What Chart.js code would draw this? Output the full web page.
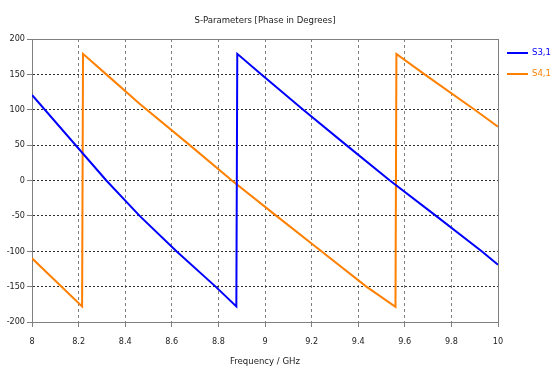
<!DOCTYPE html>
<html>
<head>
<meta charset="utf-8">
<script src="https://cdn.jsdelivr.net/npm/chart.js@4/dist/chart.umd.min.js"></script>
<style>
  html, body { margin: 0; padding: 0; background: #fff; }
</style>
</head>
<body>
<canvas id="chart" width="552" height="370"></canvas>
<script>
// S-parameter phase data, degrees vs GHz
const s31Freq  = [8.0, 8.319, 8.462, 8.62, 8.788, 8.877, 8.881, 8.977, 9.164, 9.349, 9.536, 9.734, 9.93, 10.0];
const s31Phase = [121, 0, -50, -100, -150, -178, 179, 152, 100, 50, 0, -50, -100, -119];

const s41Freq  = [8.0, 8.215, 8.219, 8.319, 8.463, 8.677, 8.858, 9.049, 9.242, 9.435, 9.56, 9.564, 9.685, 9.9, 10.0];
const s41Phase = [-110, -178, 179, 150, 108, 50, 0, -50, -100, -150, -178.5, 179, 150, 100, 76];

const seriesLabels = ['S3,1', 'S4,1'];
const seriesColors = ['#0000ff', '#ff8000'];

const xTicks = [8, 8.2, 8.4, 8.6, 8.8, 9, 9.2, 9.4, 9.6, 9.8, 10];
const yTicks = [-200, -150, -100, -50, 0, 50, 100, 150, 200];

const fontFamily = "'DejaVu Sans Condensed', 'Liberation Sans', sans-serif";

function toPoints(xs, ys) {
  return xs.map((x, i) => ({ x: x, y: ys[i] }));
}

// frame around the plot area (top and right sides too)
const framePlugin = {
  id: 'frame',
  beforeDatasetsDraw(chart) {
    const { ctx, chartArea } = chart;
    ctx.save();
    ctx.strokeStyle = '#7f7f7f';
    ctx.lineWidth = 1;
    ctx.strokeRect(chartArea.left + 0.5, chartArea.top + 0.5,
                   chartArea.right - chartArea.left, chartArea.bottom - chartArea.top);
    ctx.restore();
  }
};

// legend at the right, coloured text like the original
const sideLegend = {
  id: 'sideLegend',
  afterDraw(chart) {
    const { ctx, chartArea } = chart;
    ctx.save();
    ctx.font = '9.5px ' + fontFamily;
    ctx.textBaseline = 'middle';
    chart.data.datasets.forEach((ds, i) => {
      const y = chartArea.top + 14 + i * 21;
      const x0 = chartArea.right + 9;
      ctx.strokeStyle = ds.borderColor;
      ctx.lineWidth = 2;
      ctx.beginPath();
      ctx.moveTo(x0, y);
      ctx.lineTo(x0 + 21, y);
      ctx.stroke();
      ctx.fillStyle = ds.borderColor;
      ctx.fillText(ds.label, x0 + 25, y);
    });
    ctx.restore();
  }
};

const chart = new Chart(document.getElementById('chart'), {
  type: 'scatter',
  data: {
    datasets: [
      {
        label: seriesLabels[0],
        data: toPoints(s31Freq, s31Phase),
        borderColor: seriesColors[0],
        backgroundColor: seriesColors[0],
        showLine: true,
        borderWidth: 2,
        pointRadius: 0,
        tension: 0
      },
      {
        label: seriesLabels[1],
        data: toPoints(s41Freq, s41Phase),
        borderColor: seriesColors[1],
        backgroundColor: seriesColors[1],
        showLine: true,
        borderWidth: 2,
        pointRadius: 0,
        tension: 0
      }
    ]
  },
  options: {
    responsive: false,
    animation: false,
    devicePixelRatio: 1,
    layout: { padding: { left: 0, right: 54, top: 0, bottom: 0 } },
    plugins: {
      legend: { display: false },
      tooltip: { enabled: false },
      title: {
        display: true,
        text: 'S-Parameters [Phase in Degrees]',
        fullSize: false,
        color: '#222',
        font: { family: fontFamily, size: 9.5, weight: 'normal' },
        padding: { top: 15, bottom: 12.6 }
      }
    },
    scales: {
      x: {
        type: 'linear',
        min: 8,
        max: 10,
        afterBuildTicks: (scale) => { scale.ticks = xTicks.map(v => ({ value: v })); },
        afterFit: (scale) => { scale.height = 48; },
        ticks: {
          color: '#222',
          font: { family: fontFamily, size: 9 },
          padding: 9,
          maxRotation: 0,
          callback: (v) => String(v)
        },
        grid: {
          color: '#808080',
          tickBorderDash: [],
          tickColor: '#7f7f7f',
          tickLength: 5
        },
        border: { display: true, color: '#7f7f7f', dash: [3, 3] },
        title: {
          display: true,
          text: 'Frequency / GHz',
          color: '#222',
          font: { family: fontFamily, size: 9.5 },
          padding: { top: 0, bottom: 3 }
        }
      },
      y: {
        type: 'linear',
        min: -200,
        max: 200,
        afterBuildTicks: (scale) => { scale.ticks = yTicks.map(v => ({ value: v })); },
        afterFit: (scale) => { scale.width = 32; },
        ticks: {
          color: '#222',
          font: { family: fontFamily, size: 9 },
          padding: 2,
          callback: (v) => String(v)
        },
        grid: {
          color: '#303030',
          tickBorderDash: [],
          tickColor: '#7f7f7f',
          tickLength: 5
        },
        border: { display: true, color: '#7f7f7f', dash: [2, 2] }
      }
    }
  },
  plugins: [framePlugin, sideLegend]
});
</script>
</body>
</html>
